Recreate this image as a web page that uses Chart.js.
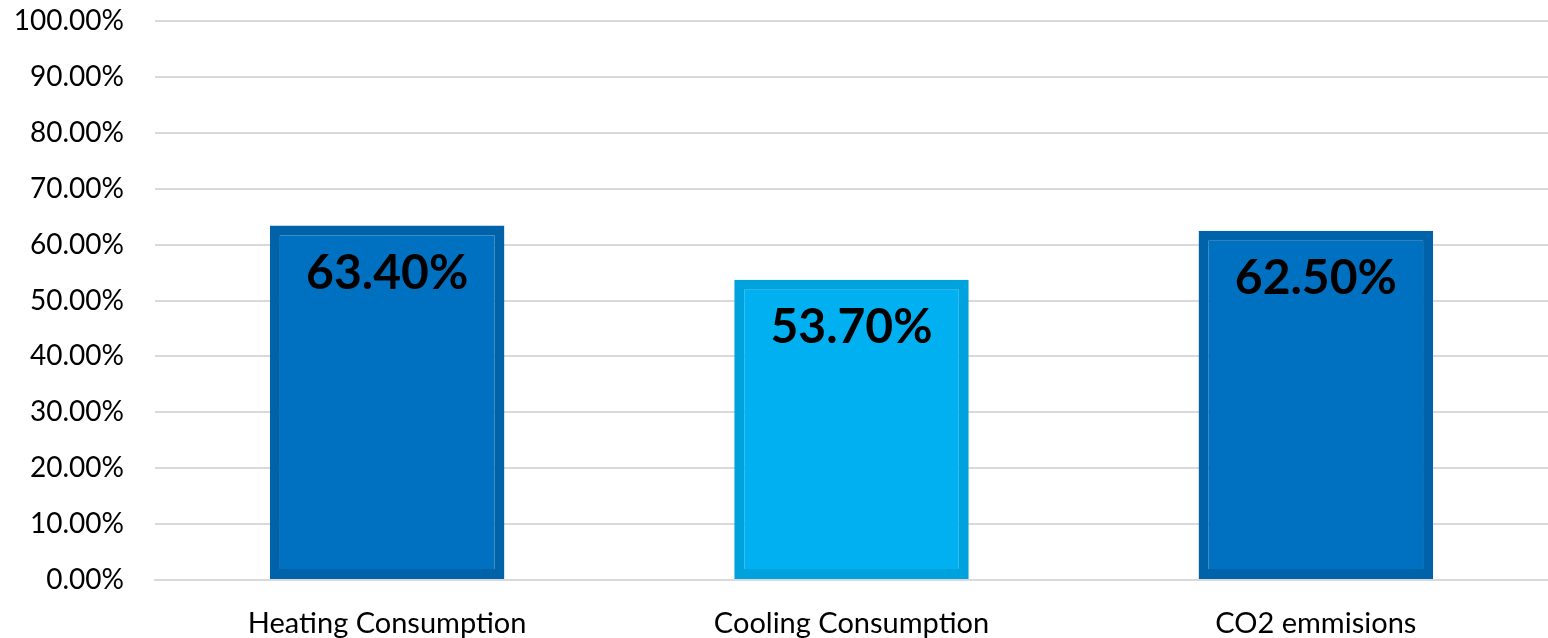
<!DOCTYPE html>
<html>
<head>
<meta charset="utf-8">
<script src="https://cdn.jsdelivr.net/npm/chart.js@4"></script>
<style>
  html, body { margin: 0; padding: 0; background: #fff; overflow: hidden; }
  canvas { display: block; }
</style>
</head>
<body>
<canvas id="chart" width="1548" height="638"></canvas>
<script>
const categories = ["Heating Consumption", "Cooling Consumption", "CO2 emmisions"];
const values = [63.4, 53.7, 62.5];
const fillColors = ["#0070C0", "#00B0F0", "#0070C0"];
const edgeColors = ["#0063AA", "#00A2DD", "#0063AA"];

// value labels drawn inside the top of each bar
const barLabels = {
    id: "barLabels",
    afterDatasetsDraw(chart) {
        const ctx = chart.ctx;
        const meta = chart.getDatasetMeta(0);
        ctx.save();
        ctx.font = "bold 48px Lato";
        ctx.fillStyle = "#000";
        ctx.textAlign = "center";
        ctx.textBaseline = "middle";
        meta.data.forEach((bar, i) => {
            ctx.fillText(values[i].toFixed(2) + "%", bar.x, bar.y + 48);
        });
        ctx.restore();
    }
};

new Chart(document.getElementById("chart").getContext("2d"), {
    type: "bar",
    data: {
        labels: categories,
        datasets: [{
            data: values,
            backgroundColor: fillColors,
            borderColor: edgeColors,
            borderWidth: 10,
            borderSkipped: false,
            barPercentage: 0.505,
            categoryPercentage: 1
        }]
    },
    options: {
        responsive: false,
        animation: false,
        layout: { padding: 0 },
        plugins: { legend: { display: false }, tooltip: { enabled: false } },
        scales: {
            x: {
                grid: { display: false },
                border: { display: true, color: "#d9d9d9", width: 2 },
                ticks: { color: "#000", font: { family: "Lato", size: 29 }, padding: 18, maxRotation: 0 },
                afterFit: s => { s.height = 58; s.paddingTop = 0; s.paddingLeft = 0; s.paddingRight = 0; }
            },
            y: {
                min: 0, max: 100,
                ticks: {
                    stepSize: 10,
                    color: "#000",
                    padding: 31,
                    font: { family: "Lato", size: 28 },
                    callback: v => v.toFixed(2) + "%"
                },
                grid: { color: "#d9d9d9", lineWidth: 2, drawTicks: false },
                border: { display: false },
                afterFit: s => { s.width = 155; s.paddingTop = 21; s.paddingBottom = 0; }
            }
        }
    },
    plugins: [barLabels]
});
</script>
</body>
</html>
